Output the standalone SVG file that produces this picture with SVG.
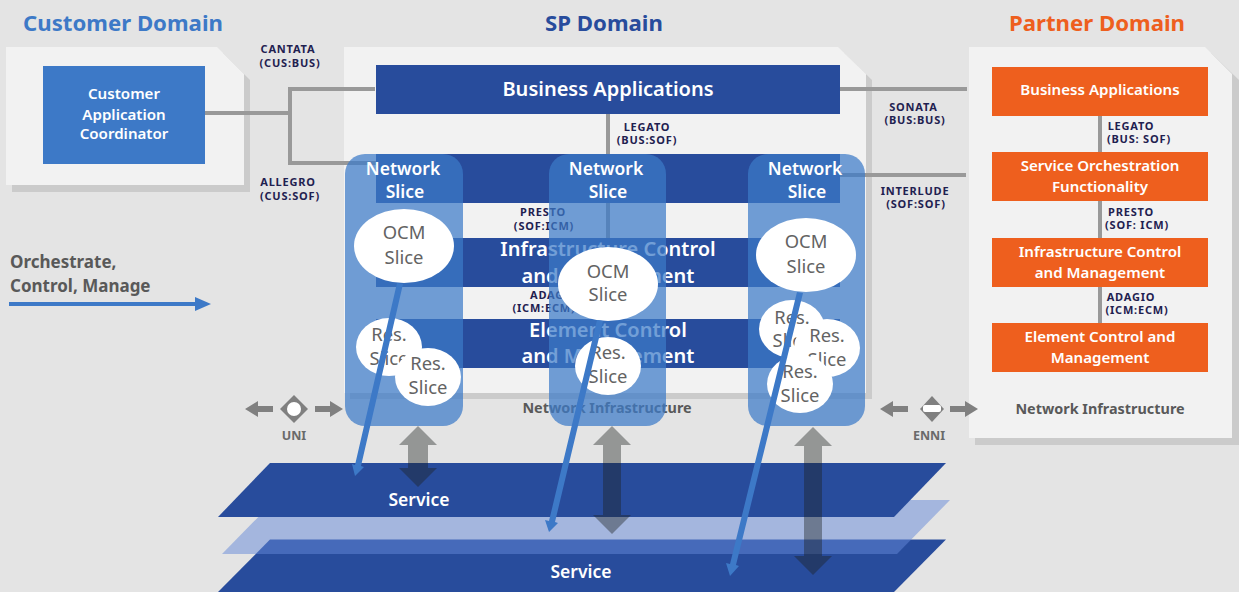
<svg xmlns="http://www.w3.org/2000/svg" width="1239" height="592" viewBox="0 0 1239 592">
<style>
text{font-family:"Noto Sans","Open Sans","Liberation Sans",sans-serif;font-weight:600;text-anchor:middle}
.title{font-size:22.2px;font-weight:700}
.bar{font-size:20px;fill:#fff}
.lab{font-size:11px;font-weight:700;fill:#1f2150;letter-spacing:.8px}
.org{font-size:15.1px;fill:#fff}
.ns{font-size:17.5px;fill:#fff}
.oc{font-size:18.4px;font-weight:400;fill:#636363}
.gr{font-size:14.4px;font-weight:700;fill:#595959}
.sm{font-size:12.5px;font-weight:700;fill:#6a6a6a}
.sv{font-size:17.5px;fill:#fff}
.panel{fill:#f2f2f2}.shadow{fill:#cbcbcb}
.conn{stroke:#999;stroke-width:4;fill:none}
.slice{fill:#3c7ac7;fill-opacity:.72}
.db{fill:#1c211e;fill-opacity:.4}
.sym{fill:#808080}
.bl{fill:#3d79c7}
.w{fill:#fff}
.dark{fill:#284c9c}
.or{fill:#ee5f1e}
</style>
<rect width="1239" height="592" fill="#e4e4e4"/>
<g id="titles">
<text class="title" x="123" y="31" style="fill:#3d79c7">Customer Domain</text>
<text class="title" x="604" y="31" style="fill:#284c9c">SP Domain</text>
<text class="title" x="1097" y="31" style="fill:#ee5f1e">Partner Domain</text>
</g>
<g id="panels">
<polygon class="shadow" points="12,53 223,53 250,80 250,192 12,192"/>
<polygon class="panel" points="6,47 217,47 244,74 244,185 6,185"/>
<polygon class="shadow" points="350,53 844,53 872,80 872,399 350,399"/>
<polygon class="panel" points="344,47 838,47 866,74 866,393 344,393"/>
<polygon class="shadow" points="975,53 1211,53 1239,80 1239,445 975,445"/>
<polygon class="panel" points="969,47 1205,47 1232,74 1232,438 969,438"/>
</g>
<g id="connectors">
<path class="conn" d="M205 113H290M375 89H290V163H376"/>
<path class="conn" d="M840 89H967"/>
<path class="conn" d="M840 175H966"/>
<path class="conn" d="M608 114V238"/>
<path class="conn" d="M1100 116V323"/>
</g>
<g id="customer-app"><rect class="bl" x="43" y="66" width="162" height="98"/>
<text class="org" x="124" y="99">Customer</text><text class="org" x="124" y="120">Application</text><text class="org" x="124" y="139">Coordinator</text></g>
<g id="sp-business"><rect class="dark" x="376" y="65" width="464" height="49"/><text class="bar" x="608" y="96">Business Applications</text></g>
<g id="sp-sof"><rect class="dark" x="376" y="154" width="464" height="49"/></g>
<g id="sp-icm"><rect class="dark" x="376" y="238" width="464" height="49"/><text class="bar" x="608" y="256">Infrastructure Control</text><text class="bar" x="608" y="283">and Management</text></g>
<g id="sp-ecm"><rect class="dark" x="376" y="319" width="464" height="49"/><text class="bar" x="608" y="337">Element Control</text><text class="bar" x="608" y="363">and Management</text></g>
<g id="partner-business"><rect class="or" x="992" y="67" width="216" height="49"/><text class="org" x="1100" y="95">Business Applications</text></g>
<g id="partner-sof"><rect class="or" x="992" y="152" width="216" height="49"/><text class="org" x="1100" y="171">Service Orchestration</text><text class="org" x="1100" y="192">Functionality</text></g>
<g id="partner-icm"><rect class="or" x="992" y="238" width="216" height="49"/><text class="org" x="1100" y="257">Infrastructure Control</text><text class="org" x="1100" y="278">and Management</text></g>
<g id="partner-ecm"><rect class="or" x="992" y="323" width="216" height="49"/><text class="org" x="1100" y="342">Element Control and</text><text class="org" x="1100" y="363">Management</text></g>
<g id="labels">
<text class="lab" x="288" y="53">CANTATA</text><text class="lab" x="290" y="67">(CUS:BUS)</text>
<text class="lab" x="288" y="186">ALLEGRO</text><text class="lab" x="290" y="200">(CUS:SOF)</text>
<text class="lab" x="647" y="131">LEGATO</text><text class="lab" x="647" y="144">(BUS:SOF)</text>
<text class="lab" x="543" y="216">PRESTO</text><text class="lab" x="544" y="230">(SOF:ICM)</text>
<text class="lab" x="530" y="299" style="text-anchor:start">ADAGIO</text><text class="lab" x="544" y="312">(ICM:ECM)</text>
<text class="lab" x="913.5" y="111">SONATA</text><text class="lab" x="915" y="124">(BUS:BUS)</text>
<text class="lab" x="915" y="195">INTERLUDE</text><text class="lab" x="916" y="208">(SOF:SOF)</text>
<text class="lab" x="1131" y="130">LEGATO</text><text class="lab" x="1139" y="143">(BUS: SOF)</text>
<text class="lab" x="1131" y="216">PRESTO</text><text class="lab" x="1137" y="229">(SOF: ICM)</text>
<text class="lab" x="1131" y="301">ADAGIO</text><text class="lab" x="1137" y="314">(ICM:ECM)</text>
</g>
<text class="gr" x="607" y="413">Network Infrastructure</text>
<text class="gr" x="1100" y="414">Network Infrastructure</text>
<g id="legend">
<text class="gr" x="10" y="268" style="text-anchor:start;font-size:17px">Orchestrate,</text>
<text class="gr" x="10" y="292" style="text-anchor:start;font-size:17px">Control, Manage</text>
<polygon class="bl" points="9,302 195,302 195,297 211,304 195,311 195,306 9,306"/>
</g>
<g id="uni">
<polygon class="sym" points="245,409 258,401 258,406 273,406 273,412 258,412 258,417"/>
<polygon class="sym" points="343,409 330,401 330,406 315,406 315,412 330,412 330,417"/>
<polygon class="sym" points="294,395 308,409 294,423 280,409"/><circle class="w" cx="294" cy="409" r="7"/>
<text class="sm" x="294" y="440">UNI</text>
</g>
<g id="enni">
<polygon class="sym" points="880,409 893,401 893,406 908,406 908,412 893,412 893,417"/>
<polygon class="sym" points="978,409 965,401 965,406 950,406 950,412 965,412 965,417"/>
<polygon class="sym" points="932,396 944,409 932,422 920,409"/><rect class="w" x="923" y="405" width="18" height="7" rx="2"/>
<text class="sm" x="929" y="440">ENNI</text>
</g>
<g id="planes">
<polygon class="dark" points="218,592 270,539.5 946,539.5 894,592"/>
<polygon points="222,554 275,500 950,500 897,554" fill="#6488d8" fill-opacity=".5"/>
<g id="service-top"><polygon class="dark" points="218,517 270,463 946,463 894,517"/><text class="sv" x="419" y="506">Service</text></g>
<text class="sv" x="581" y="578">Service</text>
</g>
<g id="double-arrows">
<polygon class="db" points="418,426 437,445 428,445 428,468 437,468 418,487 399,468 408,468 408,445 399,445"/>
<polygon class="db" points="612,426 631,445 621,445 621,515 631,515 612,534 593,515 603,515 603,445 593,445"/>
<polygon class="db" points="813,427 832,446 822,446 822,556 832,556 813,575 794,556 804,556 804,446 794,446"/>
</g>
<g id="slice-1"><rect class="slice" x="345" y="154" width="118" height="272" rx="20"/>
<text class="ns" x="403" y="175">Network</text><text class="ns" x="405" y="198">Slice</text>
<ellipse class="w" cx="404" cy="246" rx="50" ry="37"/><text class="oc" x="404" y="239">OCM</text><text class="oc" x="404" y="264">Slice</text>
<ellipse class="w" cx="389" cy="347" rx="33" ry="29"/><text class="oc" x="389" y="341">Res.</text><text class="oc" x="389" y="365">Slice</text>
<ellipse class="w" cx="428" cy="377" rx="33" ry="29"/><text class="oc" x="428" y="370">Res.</text><text class="oc" x="428" y="394">Slice</text></g>
<g id="slice-2"><rect class="slice" x="549" y="154" width="117" height="272" rx="20"/>
<text class="ns" x="606" y="175">Network</text><text class="ns" x="608" y="198">Slice</text>
<ellipse class="w" cx="608" cy="284" rx="50" ry="37"/><text class="oc" x="608" y="278">OCM</text><text class="oc" x="608" y="301">Slice</text>
<ellipse class="w" cx="608" cy="366" rx="33" ry="29"/><text class="oc" x="608" y="359">Res.</text><text class="oc" x="608" y="383">Slice</text></g>
<g id="slice-3"><rect class="slice" x="748" y="154" width="117" height="272" rx="20"/>
<text class="ns" x="805" y="175">Network</text><text class="ns" x="807" y="198">Slice</text>
<ellipse class="w" cx="806" cy="255" rx="50" ry="37"/><text class="oc" x="806" y="248">OCM</text><text class="oc" x="806" y="273">Slice</text>
<ellipse class="w" cx="792" cy="329" rx="33" ry="29"/><text class="oc" x="792" y="324">Res.</text><text class="oc" x="792" y="347">Slice</text>
<ellipse class="w" cx="827" cy="348" rx="33" ry="29"/><text class="oc" x="827" y="342">Res.</text><text class="oc" x="827" y="366">Slice</text>
<ellipse class="w" cx="800" cy="384" rx="33" ry="29"/><text class="oc" x="800" y="378">Res.</text><text class="oc" x="800" y="402">Slice</text></g>
<g id="blue-arrows">
<polygon class="bl" points="397,283 403,284 361,466 364,467 355,476 352,464 355,465"/>
<polygon class="bl" points="597,320 603,321 555,522 558,523 549,532 545,520 549,521"/>
<polygon class="bl" points="797,292 803,293 736,565 739,566 730,576 726,563 730,564"/>
</g>
</svg>
